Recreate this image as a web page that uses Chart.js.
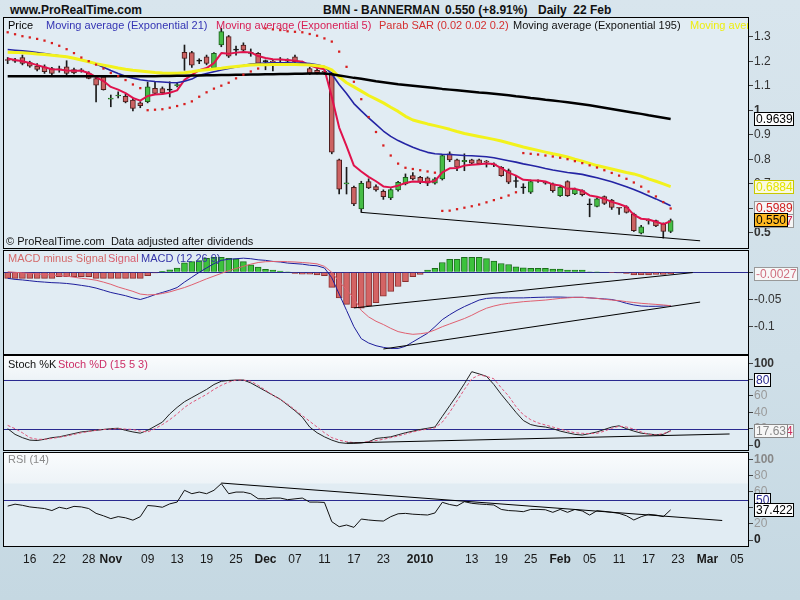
<!DOCTYPE html>
<html>
<head>
<meta charset="utf-8">
<script src="https://cdn.jsdelivr.net/npm/chart.js@4.4.0/dist/chart.umd.min.js"></script>
<style>
  body { margin:0; width:800px; height:600px; overflow:hidden; position:relative;
         background: linear-gradient(to bottom, #d8e5ed 0%, #cfdfe8 60%, #c5d8e2 100%);
         font-family: 'Liberation Sans', Arial, sans-serif; }
  canvas { position:absolute; left:0; z-index:1; }
  .t { position:absolute; white-space:nowrap; font-size:11px; line-height:13px; z-index:2; }
  .h { position:absolute; white-space:nowrap; font-weight:bold; font-size:12px; line-height:14px; color:#111; z-index:2; }
  .clip { position:absolute; left:4px; width:744px; height:14px; overflow:hidden; z-index:2; }
  .clip .t { top:0; }
</style>
</head>
<body>
<canvas id="cPrice" width="800" height="232" style="top:17px"></canvas>
<canvas id="cMacd" width="800" height="105" style="top:250px"></canvas>
<canvas id="cStoch" width="800" height="96" style="top:355px"></canvas>
<canvas id="cRsi" width="800" height="124" style="top:452px"></canvas>

<div class="h" style="left:10px;top:3px">www.ProRealTime.com</div>
<div class="h" style="left:323px;top:3px">BMN - BANNERMAN</div>
<div class="h" style="left:445px;top:3px">0.550 (+8.91%)</div>
<div class="h" style="left:538px;top:3px">Daily&nbsp; 22 Feb</div>

<div class="clip" style="top:19px">
  <span class="t" style="left:4px;color:#000">Price</span>
  <span class="t" style="left:42px;color:#3434b4">Moving average (Exponential 21)</span>
  <span class="t" style="left:212px;color:#d81e55">Moving average (Exponential 5)</span>
  <span class="t" style="left:375px;color:#d43030">Parab SAR (0.02 0.02 0.2)</span>
  <span class="t" style="left:509px;color:#111">Moving average (Exponential 195)</span>
  <span class="t" style="left:686px;color:#eeee10">Moving average</span>
</div>
<div class="t" style="left:6px;top:235px;color:#111">© ProRealTime.com&nbsp; Data adjusted after dividends</div>

<div class="t" style="left:8px;top:252px;color:#d46a6a">MACD minus Signal</div>
<div class="t" style="left:108px;top:252px;color:#d86070">Signal</div>
<div class="t" style="left:141px;top:252px;color:#3434a8">MACD (12 26 9)</div>

<div class="t" style="left:8px;top:358px;color:#111">Stoch %K</div>
<div class="t" style="left:58px;top:358px;color:#cc2d66">Stoch %D (15 5 3)</div>

<div class="t" style="left:8px;top:453px;color:#8a8a8a">RSI (14)</div>

<script>
// trading days (ASX) shown on the time axis
const dates = [
  '13 Oct','14 Oct','15 Oct','16 Oct','19 Oct','20 Oct','21 Oct','22 Oct','23 Oct','26 Oct','27 Oct','28 Oct','29 Oct','30 Oct',
  '2 Nov','3 Nov','4 Nov','5 Nov','6 Nov','9 Nov','10 Nov','11 Nov','12 Nov','13 Nov','16 Nov','17 Nov','18 Nov','19 Nov','20 Nov','23 Nov','24 Nov','25 Nov','26 Nov','27 Nov','30 Nov',
  '1 Dec','2 Dec','3 Dec','4 Dec','7 Dec','8 Dec','9 Dec','10 Dec','11 Dec','14 Dec','15 Dec','16 Dec','17 Dec','18 Dec','21 Dec','22 Dec','23 Dec','24 Dec','29 Dec','30 Dec','31 Dec',
  '4 Jan','5 Jan','6 Jan','7 Jan','8 Jan','11 Jan','12 Jan','13 Jan','14 Jan','15 Jan','18 Jan','19 Jan','20 Jan','21 Jan','22 Jan','25 Jan','27 Jan','28 Jan','29 Jan',
  '1 Feb','2 Feb','3 Feb','4 Feb','5 Feb','8 Feb','9 Feb','10 Feb','11 Feb','12 Feb','15 Feb','16 Feb','17 Feb','18 Feb','19 Feb','22 Feb','23 Feb','24 Feb','25 Feb','26 Feb',
  '1 Mar','2 Mar','3 Mar','4 Mar','5 Mar','8 Mar'
];
const tickDates = ['16 Oct','22 Oct','28 Oct','2 Nov','9 Nov','13 Nov','19 Nov','25 Nov','1 Dec','7 Dec','11 Dec','17 Dec','23 Dec','4 Jan','13 Jan','19 Jan','25 Jan','1 Feb','5 Feb','11 Feb','17 Feb','23 Feb','1 Mar','5 Mar'];
const tickTexts = ['16','22','28','Nov','09','13','19','25','Dec','07','11','17','23','2010','13','19','25','Feb','05','11','17','23','Mar','05'];

// daily candles
const open = [1.205,1.203,1.215,1.194,1.180,1.177,1.170,1.165,1.177,1.166,1.165,1.150,1.129,1.136,1.045,1.058,1.057,1.041,1.030,1.035,1.089,1.088,1.082,1.100,1.236,1.235,1.200,1.218,1.171,1.266,1.300,1.245,1.266,1.232,1.232,1.198,1.198,1.207,1.200,1.218,1.190,1.170,1.163,1.157,1.150,0.797,0.699,0.685,0.597,0.709,0.688,0.669,0.642,0.675,0.699,0.733,0.726,0.724,0.702,0.720,0.822,0.797,0.790,0.797,0.797,0.790,0.780,0.767,0.754,0.709,0.683,0.665,0.713,0.704,0.699,0.651,0.709,0.658,0.672,0.614,0.607,0.647,0.633,0.601,0.606,0.576,0.498,0.549,0.549,0.535,0.505];
const high = [1.215,1.212,1.225,1.200,1.190,1.185,1.175,1.180,1.202,1.172,1.170,1.157,1.135,1.140,1.062,1.075,1.065,1.050,1.035,1.115,1.116,1.095,1.116,1.110,1.266,1.240,1.210,1.225,1.235,1.334,1.305,1.262,1.275,1.250,1.235,1.205,1.205,1.215,1.210,1.225,1.200,1.175,1.170,1.165,1.155,0.800,0.767,0.690,0.710,0.720,0.695,0.675,0.680,0.710,0.740,0.745,0.730,0.728,0.725,0.820,0.830,0.800,0.822,0.800,0.800,0.795,0.785,0.770,0.760,0.733,0.700,0.715,0.716,0.706,0.703,0.690,0.712,0.682,0.675,0.638,0.642,0.650,0.636,0.604,0.610,0.580,0.530,0.556,0.552,0.540,0.556];
const low = [1.190,1.195,1.185,1.175,1.160,1.150,1.140,1.155,1.145,1.148,1.155,1.128,1.034,1.082,1.014,1.050,1.030,0.997,1.010,1.030,1.065,1.065,1.054,1.095,1.163,1.175,1.190,1.185,1.165,1.259,1.215,1.225,1.235,1.220,1.185,1.165,1.160,1.190,1.190,1.195,1.185,1.145,1.148,1.145,0.822,0.658,0.658,0.610,0.583,0.680,0.670,0.636,0.635,0.670,0.695,0.715,0.700,0.692,0.698,0.715,0.790,0.753,0.753,0.780,0.780,0.768,0.770,0.730,0.700,0.685,0.660,0.660,0.705,0.698,0.665,0.648,0.648,0.655,0.650,0.565,0.605,0.615,0.595,0.575,0.580,0.505,0.495,0.535,0.525,0.478,0.500];
const close = [1.203,1.200,1.191,1.180,1.166,1.157,1.150,1.166,1.150,1.152,1.160,1.130,1.102,1.084,1.048,1.062,1.034,1.007,1.018,1.095,1.068,1.071,1.082,1.102,1.211,1.184,1.200,1.191,1.232,1.321,1.221,1.245,1.245,1.232,1.191,1.198,1.196,1.205,1.200,1.198,1.190,1.150,1.153,1.155,0.829,0.678,0.700,0.617,0.702,0.683,0.675,0.647,0.676,0.706,0.726,0.720,0.706,0.702,0.720,0.815,0.797,0.767,0.795,0.784,0.781,0.788,0.777,0.733,0.706,0.709,0.683,0.709,0.710,0.702,0.672,0.685,0.651,0.678,0.655,0.614,0.638,0.620,0.603,0.600,0.583,0.508,0.524,0.548,0.528,0.505,0.550];

// price overlays
const ema21 = [1.248,1.245,1.242,1.239,1.235,1.231,1.226,1.222,1.218,1.212,1.205,1.198,1.188,1.175,1.162,1.150,1.139,1.131,1.124,1.120,1.117,1.115,1.113,1.112,1.118,1.127,1.143,1.150,1.157,1.164,1.170,1.176,1.182,1.188,1.190,1.192,1.193,1.193,1.193,1.192,1.192,1.190,1.185,1.178,1.148,1.105,1.068,1.027,0.997,0.969,0.942,0.915,0.893,0.876,0.862,0.849,0.838,0.828,0.822,0.820,0.819,0.817,0.815,0.814,0.812,0.810,0.806,0.800,0.794,0.788,0.781,0.775,0.769,0.762,0.756,0.751,0.746,0.742,0.738,0.731,0.724,0.716,0.708,0.698,0.688,0.676,0.664,0.651,0.638,0.624,0.610];
const ema5 = [1.211,1.205,1.200,1.193,1.184,1.175,1.167,1.166,1.162,1.161,1.161,1.152,1.135,1.119,1.095,1.084,1.070,1.050,1.039,1.058,1.064,1.066,1.071,1.081,1.124,1.144,1.163,1.172,1.192,1.233,1.230,1.235,1.238,1.236,1.221,1.213,1.208,1.207,1.205,1.202,1.198,1.183,1.173,1.167,1.054,0.929,0.853,0.774,0.750,0.728,0.710,0.689,0.685,0.692,0.703,0.709,0.708,0.706,0.711,0.746,0.763,0.764,0.774,0.777,0.779,0.782,0.780,0.764,0.745,0.733,0.716,0.714,0.713,0.709,0.697,0.693,0.679,0.679,0.671,0.652,0.647,0.638,0.626,0.617,0.606,0.573,0.557,0.554,0.545,0.535,0.5467];
const ema195 = [1.139,1.139,1.139,1.139,1.139,1.139,1.139,1.139,1.139,1.139,1.139,1.139,1.139,1.139,1.139,1.139,1.139,1.139,1.139,1.139,1.139,1.140,1.140,1.141,1.141,1.142,1.142,1.143,1.143,1.144,1.144,1.145,1.145,1.146,1.146,1.147,1.147,1.148,1.148,1.149,1.149,1.150,1.150,1.150,1.147,1.142,1.137,1.132,1.128,1.123,1.118,1.114,1.110,1.106,1.103,1.100,1.097,1.094,1.091,1.087,1.084,1.081,1.078,1.075,1.072,1.070,1.067,1.064,1.061,1.057,1.054,1.050,1.047,1.043,1.040,1.036,1.032,1.028,1.024,1.020,1.015,1.010,1.005,1.000,0.995,0.990,0.985,0.979,0.974,0.969,0.9639];
const emaYellow = [1.237,1.236,1.234,1.232,1.229,1.227,1.224,1.221,1.218,1.212,1.205,1.198,1.190,1.184,1.178,1.172,1.167,1.163,1.160,1.157,1.154,1.152,1.151,1.151,1.153,1.157,1.162,1.165,1.168,1.171,1.175,1.178,1.181,1.184,1.185,1.186,1.187,1.187,1.187,1.187,1.186,1.184,1.181,1.177,1.165,1.136,1.112,1.095,1.078,1.060,1.045,1.030,1.012,0.995,0.975,0.960,0.952,0.944,0.937,0.930,0.922,0.913,0.905,0.899,0.893,0.887,0.881,0.874,0.866,0.858,0.850,0.843,0.836,0.829,0.822,0.816,0.809,0.800,0.792,0.783,0.774,0.767,0.760,0.753,0.746,0.740,0.731,0.720,0.710,0.699,0.6884];
const sar = [1.318,1.310,1.302,1.297,1.291,1.284,1.274,1.263,1.249,1.233,1.215,1.200,1.186,1.170,1.152,1.139,1.123,1.105,1.090,1.000,1.002,1.004,1.010,1.017,1.025,1.036,1.055,1.073,1.088,1.100,1.112,1.130,1.145,1.158,1.170,1.334,1.330,1.327,1.322,1.320,1.318,1.311,1.304,1.293,1.280,1.239,1.177,1.116,1.045,0.972,0.911,0.856,0.815,0.782,0.765,0.760,0.755,0.750,0.745,0.589,0.590,0.596,0.602,0.608,0.615,0.624,0.633,0.642,0.652,0.665,0.825,0.822,0.819,0.815,0.811,0.806,0.800,0.792,0.784,0.775,0.766,0.755,0.744,0.733,0.720,0.705,0.688,0.668,0.648,0.625,0.5989];

// MACD (12 26 9)
const macd = [-0.011,-0.013,-0.014,-0.0155,-0.017,-0.018,-0.019,-0.0195,-0.0205,-0.022,-0.024,-0.026,-0.029,-0.033,-0.037,-0.040,-0.043,-0.047,-0.050,-0.046,-0.041,-0.037,-0.033,-0.028,-0.018,-0.009,0.000,0.008,0.016,0.022,0.024,0.025,0.026,0.025,0.023,0.022,0.020,0.019,0.017,0.016,0.015,0.013,0.012,0.008,-0.010,-0.040,-0.070,-0.100,-0.122,-0.130,-0.135,-0.138,-0.140,-0.140,-0.136,-0.128,-0.120,-0.112,-0.100,-0.087,-0.078,-0.070,-0.063,-0.057,-0.051,-0.048,-0.047,-0.047,-0.047,-0.047,-0.047,-0.0465,-0.046,-0.0457,-0.0455,-0.0455,-0.046,-0.046,-0.046,-0.047,-0.048,-0.049,-0.050,-0.053,-0.057,-0.060,-0.062,-0.0625,-0.0625,-0.062,-0.061];
const signal = [0.001,0.000,-0.001,-0.002,-0.003,-0.004,-0.005,-0.006,-0.007,-0.009,-0.011,-0.0125,-0.0145,-0.018,-0.022,-0.027,-0.031,-0.035,-0.040,-0.0415,-0.041,-0.039,-0.036,-0.032,-0.028,-0.023,-0.0175,-0.012,-0.007,-0.002,0.003,0.007,0.011,0.015,0.018,0.0195,0.020,0.020,0.0195,0.019,0.018,0.017,0.0155,0.011,0.000,-0.017,-0.032,-0.0475,-0.070,-0.082,-0.090,-0.096,-0.103,-0.109,-0.112,-0.114,-0.113,-0.111,-0.106,-0.100,-0.095,-0.090,-0.085,-0.079,-0.072,-0.066,-0.062,-0.059,-0.057,-0.0555,-0.054,-0.053,-0.052,-0.051,-0.0495,-0.048,-0.047,-0.046,-0.046,-0.047,-0.048,-0.0495,-0.051,-0.052,-0.054,-0.0555,-0.057,-0.058,-0.059,-0.060,-0.0614];
const macdHist = [-0.011,-0.011,-0.011,-0.011,-0.011,-0.011,-0.011,-0.008,-0.008,-0.008,-0.008,-0.008,-0.011,-0.011,-0.011,-0.011,-0.011,-0.011,-0.011,-0.006,-0.001,0.0018,0.0048,0.0078,0.0174,0.0198,0.0217,0.0259,0.0277,0.0277,0.0259,0.0247,0.0198,0.0138,0.0096,0.0054,0.0042,0.0024,0.0006,-0.002,-0.0036,-0.0036,-0.0048,-0.006,-0.0277,-0.047,-0.059,-0.065,-0.066,-0.062,-0.056,-0.044,-0.035,-0.026,-0.017,-0.008,-0.004,0.0042,0.0072,0.018,0.024,0.024,0.0277,0.0277,0.0277,0.0253,0.0205,0.0162,0.0144,0.0102,0.0084,0.0072,0.0072,0.0072,0.006,0.006,0.0042,0.0042,0.0042,0.001,0.0005,0.0,-0.0005,-0.001,-0.002,-0.005,-0.005,-0.005,-0.004,-0.004,-0.0027];

// Stochastic (15 5 3)
const stochK = [20,13,9,6,5.5,7,9,10,12,14,16,17,18,19,20,20.5,18,16,14.5,18,23,28,38,46,53,58,63,68,74,78,79,79.5,79.5,76,71,66,61,56,49,42,34,22,15,10,6,3,2,2,2.5,4,8,9,10,12.5,15,17,19,20.5,22,35,48,61,75,89.7,87,84,74,62,51,40,30,25,23,22,20,17,15,13,12.2,14,16,19,22,23.5,20,17,14.5,13.5,12.5,13,17.63];
const stochD = [24,20,15,9,7,7,8,9.5,11,13,15,16.5,18,19,19.5,20,19.5,19,17,16,20,25,31,38,46,52,57,62,68,73,77,79.5,79.5,78,73,67,61,56,50,43,36,29,22,15,9,6,4,3,3,4,5.5,7,9,11,13.5,16,18,19.5,21,28,40,54,68,81,85.7,84,81,70,60,47,37,31,27,24.5,22,19.5,17,15,14.3,14,14.3,17,20.5,23,22,19.5,16,13,12.2,14,16.844];

// RSI (14)
const rsi = [42,44.4,43,41,40,39,36.5,40.6,38.7,41.7,41,39,33,30,26.5,29,27.5,24.6,28.9,42.8,42,40.6,44.8,47,61.6,57.4,59.4,57.4,61.6,69.9,57.4,59.4,59.4,57.4,51.2,51,52,52,50,51,52,47,47,46.6,22.7,16.5,18.6,15.7,26,24.8,24,23.5,28.9,32.5,33,32,31.5,31,33.5,46.7,44,42.3,47.5,45.5,44.6,44,43.4,37.9,36.5,36,35.1,37.9,37.9,37.5,34.3,37.9,34.3,37.9,36,30.9,36.3,35.5,34.3,33,30,24.8,28.9,31.8,31,28.9,37.422];

// hand-drawn trend lines: [day index, value]
const priceTrend = [[48, 0.583], [94, 0.467]];
const macdTrendA = [[47, -0.0655], [93, -0.0005]];
const macdTrendB = [[51, -0.141], [94, -0.0547]];
const stochTrend = [[46, 2.5], [98, 13.5]];
const rsiTrend = [[29, 70.6], [97, 24.2]];

// axis ticks and reference levels
const priceTicks = [0.5, 0.6, 0.7, 0.8, 0.9, 1, 1.1, 1.2, 1.3];
const macdTicks = [0, -0.05, -0.1];
const oscTicks = [0, 20, 40, 60, 80, 100];
const macdLevels = [0];
const stochLevels = [80, 20];
const rsiLevels = [50];

Chart.defaults.font.family = "'Liberation Sans', Arial, sans-serif";
Chart.defaults.font.size = 12;
Chart.defaults.animation = false;
Chart.defaults.events = [];
Chart.defaults.plugins.legend.display = false;
Chart.defaults.plugins.tooltip.enabled = false;

const panelPlugin = {
  id: 'panel',
  beforeDraw(chart, args, opts) {
    const { ctx, chartArea: a } = chart;
    const y = chart.scales.y;
    ctx.save();
    ctx.fillStyle = '#e1ecf3';
    ctx.fillRect(a.left, a.top, a.width, a.height);
    if (opts.band != null) {
      const yb = y.getPixelForValue(opts.band);
      const g = ctx.createLinearGradient(0, a.top, 0, yb);
      g.addColorStop(0, '#fafcfd');
      g.addColorStop(1, '#edf3f7');
      ctx.fillStyle = g;
      ctx.fillRect(a.left, a.top, a.width, yb - a.top);
    }
    ctx.strokeStyle = '#2a2a90';
    ctx.lineWidth = 1;
    (opts.levels || []).forEach(v => {
      const py = Math.round(y.getPixelForValue(v)) + 0.5;
      ctx.beginPath();
      ctx.moveTo(a.left, py);
      ctx.lineTo(a.right, py);
      ctx.stroke();
    });
    ctx.restore();
  },
  afterDraw(chart, args, opts) {
    const { ctx, chartArea: a } = chart;
    const y = chart.scales.y;
    ctx.save();
    ctx.strokeStyle = '#000';
    ctx.lineWidth = 1;
    ctx.strokeRect(a.left - 0.5, a.top - 0.5, a.width + 1, a.height + 1);
    ctx.font = "12px 'Liberation Sans', Arial, sans-serif";
    ctx.textBaseline = 'middle';
    (opts.tags || []).forEach(t => {
      const py = Math.round(y.getPixelForValue(t.value));
      const w = Math.ceil(ctx.measureText(t.text).width) + 3;
      const x = a.right + 6;
      ctx.fillStyle = t.fill;
      ctx.fillRect(x, py - 7, w, 14);
      ctx.strokeStyle = t.border;
      ctx.strokeRect(x + 0.5, py - 6.5, w - 1, 13);
      ctx.fillStyle = t.color;
      ctx.fillText(t.text, x + 2, py + 0.5);
    });
    ctx.restore();
  }
};

function tickText(v) {
  const k = tickDates.indexOf(dates[v]);
  return k < 0 ? '' : tickTexts[k];
}

function noPad(s) {
  s.paddingTop = 0; s.paddingBottom = 0; s.paddingLeft = 0; s.paddingRight = 0;
}

function xScale(show) {
  return {
    type: 'category', labels: dates, offset: true, display: show,
    grid: { display: false, drawTicks: false },
    border: { display: false },
    afterFit: s => { s.height = show ? 30 : 0; noPad(s); },
    afterBuildTicks: s => { s.ticks = tickDates.map(d => ({ value: dates.indexOf(d) })); },
    ticks: {
      autoSkip: false, maxRotation: 0, padding: 6, color: '#1a1a1a',
      callback: v => tickText(v),
      font: c => {
        const txt = c && c.tick ? tickText(c.tick.value) : '';
        return { size: 12, weight: (txt === '' || /^\d\d$/.test(txt)) ? 'normal' : 'bold' };
      }
    }
  };
}

function yScale(min, max, ticks, fmt, style) {
  const st = c => (c && c.tick) ? style(c.tick.value) : { color: '#333', bold: false };
  return {
    position: 'right', min: min, max: max,
    afterFit: s => { s.width = 52; noPad(s); },
    afterBuildTicks: s => { s.ticks = ticks.map(v => ({ value: v })); },
    grid: { drawOnChartArea: false, drawTicks: true, tickLength: 5, color: '#444' },
    border: { display: true, color: '#000' },
    ticks: {
      autoSkip: false, padding: 1, callback: fmt,
      color: c => st(c).color,
      font: c => ({ size: 12, weight: st(c).bold ? 'bold' : 'normal' })
    }
  };
}

function line(data, color, width, extra) {
  return Object.assign({ type: 'line', data: data, borderColor: color, borderWidth: width,
    pointRadius: 0, fill: false, tension: 0, borderJoinStyle: 'round', order: 1 }, extra || {});
}
function trend(points) {
  return line(points.map(p => ({ x: dates[p[0]], y: p[1] })), '#000', 1, { spanGaps: true, order: 0 });
}

const candleFill = close.map((c, i) => c > open[i] ? '#46bd46' : (c < open[i] ? '#cc6262' : '#111'));
const candleEdge = close.map((c, i) => c > open[i] ? '#1d5e1d' : (c < open[i] ? '#4a1c1c' : '#111'));

new Chart(document.getElementById('cPrice'), {
  type: 'bar',
  data: {
    labels: dates,
    datasets: [
      { type: 'bar', data: low.map((l, i) => [l, high[i]]), backgroundColor: '#1a1a1a',
        barThickness: 1, grouped: false, order: 4 },
      { type: 'bar', data: open.map((o, i) => [o, close[i]]), backgroundColor: candleFill,
        borderColor: candleEdge, borderWidth: 1, borderSkipped: false, barThickness: 5,
        minBarLength: 1, grouped: false, order: 3 },
      line(ema195, '#000', 2.5),
      line(emaYellow, '#f2f21c', 3),
      line(ema21, '#2424a4', 1.6),
      line(ema5, '#e0124c', 2),
      line(sar, '#d81e1e', 0, { showLine: false, pointRadius: 1.6, pointStyle: 'rect',
        pointBackgroundColor: '#d81e1e', pointBorderWidth: 0, order: 0 }),
      trend(priceTrend)
    ]
  },
  options: {
    responsive: false,
    layout: { padding: { left: 4, top: 1, bottom: 1, right: 0 }, autoPadding: false },
    scales: {
      x: xScale(false),
      y: yScale(0.4376, 1.3763, priceTicks, v => String(+v.toFixed(2)),
        v => ({ color: '#333', bold: v === 1 || v === 0.5 }))
    },
    plugins: {
      panel: {
        tags: [
          { value: ema195.at(-1), text: ema195.at(-1).toFixed(4), color: '#000', fill: '#fdfdfd', border: '#000' },
          { value: emaYellow.at(-1), text: emaYellow.at(-1).toFixed(4), color: '#e4e400', fill: '#fafae0', border: '#c8c800' },
          { value: sar.at(-1), text: sar.at(-1).toFixed(4), color: '#d02020', fill: '#f6f6f6', border: '#999' },
          { value: ema5.at(-1), text: ema5.at(-1).toFixed(4), color: '#d02050', fill: '#f6f6f6', border: '#999' },
          { value: close.at(-1), text: close.at(-1).toFixed(3), color: '#000', fill: '#ffb820', border: '#000' }
        ]
      }
    }
  },
  plugins: [panelPlugin]
});

new Chart(document.getElementById('cMacd'), {
  type: 'bar',
  data: {
    labels: dates,
    datasets: [
      { type: 'bar', data: macdHist, barThickness: 6, borderWidth: 1, order: 3,
        backgroundColor: macdHist.map(v => v >= 0 ? '#3cc23c' : '#d46464'),
        borderColor: macdHist.map(v => v >= 0 ? '#1c6e1c' : '#8a3030') },
      line(signal, '#e06070', 1),
      line(macd, '#1e1e9c', 1),
      trend(macdTrendA),
      trend(macdTrendB)
    ]
  },
  options: {
    responsive: false,
    layout: { padding: { left: 4, top: 1, bottom: 1, right: 0 }, autoPadding: false },
    scales: {
      x: xScale(false),
      y: yScale(-0.1502, 0.0392, macdTicks, v => String(+v.toFixed(3)), () => ({ color: '#333', bold: false }))
    },
    plugins: {
      panel: {
        levels: macdLevels,
        tags: [
          { value: macdHist.at(-1), text: macdHist.at(-1).toFixed(4), color: '#d07080', fill: '#f8f8f8', border: '#999' }
        ]
      }
    }
  },
  plugins: [panelPlugin]
});

new Chart(document.getElementById('cStoch'), {
  type: 'line',
  data: {
    labels: dates,
    datasets: [
      line(stochD, '#e0557a', 1, { borderDash: [3, 2] }),
      line(stochK, '#222', 1),
      trend(stochTrend)
    ]
  },
  options: {
    responsive: false,
    layout: { padding: { left: 4, top: 1, bottom: 1, right: 0 }, autoPadding: false },
    scales: {
      x: xScale(false),
      y: yScale(-6.1, 108.9, oscTicks, v => String(v),
        v => (v === 0 || v === 100) ? { color: '#333', bold: true } : { color: '#999', bold: false })
    },
    plugins: {
      panel: {
        band: 80,
        levels: stochLevels,
        tags: [
          { value: stochLevels[0], text: String(stochLevels[0]), color: '#2a2a90', fill: '#fdfdfd', border: '#000' },
          { value: stochD.at(-1), text: stochD.at(-1).toFixed(3), color: '#d03060', fill: '#f6f6f6', border: '#999' },
          { value: stochK.at(-1), text: stochK.at(-1).toFixed(2), color: '#888', fill: '#f6f6f6', border: '#888' }
        ]
      }
    }
  },
  plugins: [panelPlugin]
});

new Chart(document.getElementById('cRsi'), {
  type: 'line',
  data: {
    labels: dates,
    datasets: [
      line(rsi, '#111', 1),
      trend(rsiTrend)
    ]
  },
  options: {
    responsive: false,
    layout: { padding: { left: 4, top: 1, bottom: 0, right: 0 }, autoPadding: false },
    scales: {
      x: xScale(true),
      y: yScale(-7.4, 107.8, oscTicks, v => String(v),
        v => v === 0 ? { color: '#222', bold: true } : (v === 100 ? { color: '#888', bold: true } : { color: '#999', bold: false }))
    },
    plugins: {
      panel: {
        band: 70,
        levels: rsiLevels,
        tags: [
          { value: rsiLevels[0], text: String(rsiLevels[0]), color: '#2a2a90', fill: '#fdfdfd', border: '#000' },
          { value: rsi.at(-1), text: rsi.at(-1).toFixed(3), color: '#000', fill: '#fdfdfd', border: '#000' }
        ]
      }
    }
  },
  plugins: [panelPlugin]
});
</script>
</body>
</html>
